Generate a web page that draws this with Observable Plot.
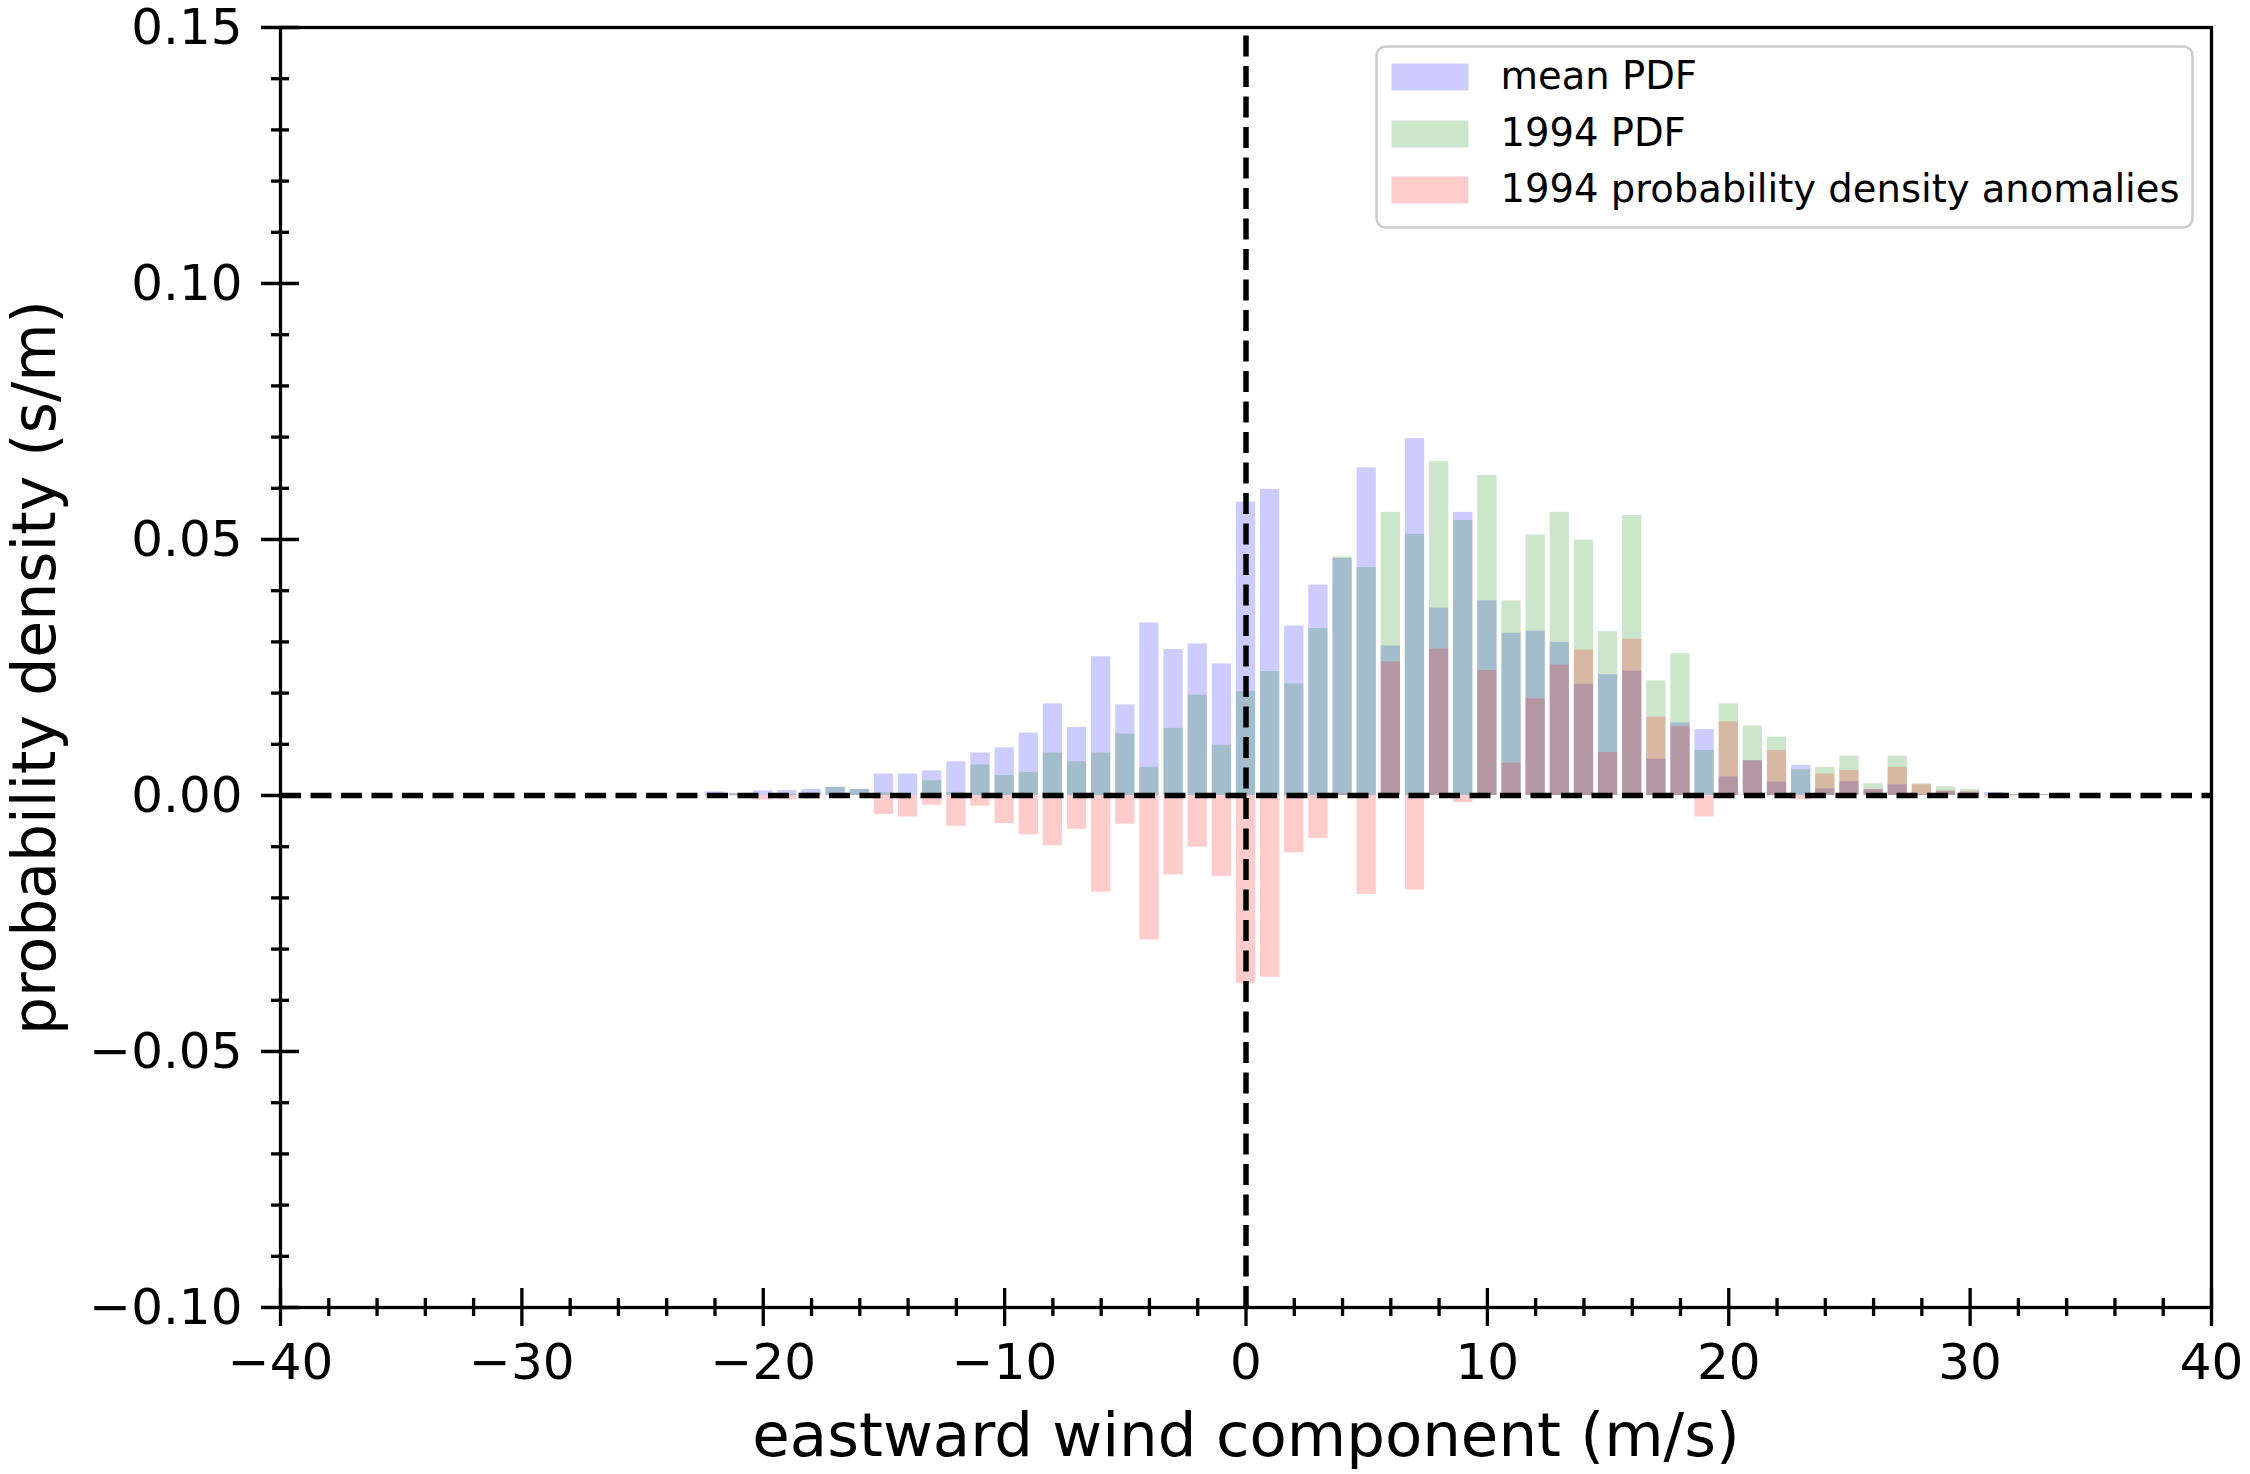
<!DOCTYPE html>
<html>
<head>
<meta charset="utf-8">
<script src="https://cdn.jsdelivr.net/npm/d3@7"></script>
<script src="https://cdn.jsdelivr.net/npm/@observablehq/plot@0.6"></script>
<style>
  html, body { margin: 0; padding: 0; background: #ffffff; }
  #chart { width: 2250px; height: 1474px; }
</style>
</head>
<body>
<div id="chart"></div>
<script>
// ---- data ----
const windBins = [-22,-21,-20,-19,-18,-17,-16,-15,-14,-13,-12,-11,-10,-9,-8,-7,-6,-5,-4,-3,-2,-1,
  0,1,2,3,4,5,6,7,8,9,10,11,12,13,14,15,16,17,18,19,20,21,22,23,24,25,26,27,28,29,30,31,32,33];
const meanPDF = [0.0007,0.0004,0.0009,0.0010,0.0012,0.0016,0.0012,0.0042,0.0042,0.0048,0.0066,0.0083,0.0093,0.0122,0.0179,0.0133,0.0271,0.0177,0.0337,0.0285,0.0296,0.0257,
  0.0573,0.0598,0.0331,0.0411,0.0463,0.0640,0.0292,0.0697,0.0366,0.0553,0.0380,0.0317,0.0321,0.0299,0.0217,0.0236,0.0243,0.0071,0.0142,0.0129,0.0036,0.0068,0.0026,0.0059,0.0013,0.0027,0.0011,0.0021,0.0002,0.0008,0.0004,0.0006,0.0002,0.0002];
const pdf1994 = [0.0002,0.0003,0.0000,0.0002,0.0005,0.0016,0.0012,0.0005,0.0000,0.0029,0.0006,0.0060,0.0039,0.0045,0.0083,0.0066,0.0083,0.0120,0.0055,0.0131,0.0196,0.0098,
  0.0203,0.0242,0.0218,0.0326,0.0466,0.0445,0.0553,0.0510,0.0652,0.0537,0.0625,0.0380,0.0509,0.0553,0.0499,0.0320,0.0547,0.0224,0.0277,0.0088,0.0179,0.0136,0.0114,0.0050,0.0055,0.0077,0.0023,0.0077,0.0023,0.0017,0.0012,0.0001,0.0001,0.0002];
const anomaly1994 = [-0.0005,-0.0001,-0.0009,-0.0008,-0.0007,0.0000,0.0000,-0.0037,-0.0042,-0.0019,-0.0060,-0.0021,-0.0055,-0.0077,-0.0098,-0.0066,-0.0189,-0.0056,-0.0282,-0.0155,-0.0101,-0.0158,
  -0.0367,-0.0355,-0.0112,-0.0084,0.0003,-0.0193,0.0261,-0.0185,0.0286,-0.0014,0.0244,0.0063,0.0189,0.0255,0.0284,0.0084,0.0305,0.0153,0.0135,-0.0042,0.0144,0.0068,0.0088,-0.0008,0.0042,0.0049,0.0012,0.0055,0.0021,0.0009,0.0008,-0.0005,-0.0001,0.0000];

const seriesNames = ["mean PDF", "1994 PDF", "1994 probability density anomalies"];
const seriesColors = ["#0000ff", "#008000", "#ff0000"];

const xMajorTicks = [-40,-30,-20,-10,0,10,20,30,40];
const xMinorTicks = [-38,-36,-34,-32,-28,-26,-24,-22,-18,-16,-14,-12,-8,-6,-4,-2,2,4,6,8,12,14,16,18,22,24,26,28,32,34,36,38];
const yMajorTicks = [-0.10,-0.05,0.00,0.05,0.10,0.15];
const yMinorTicks = [-0.09,-0.08,-0.07,-0.06,-0.04,-0.03,-0.02,-0.01,0.01,0.02,0.03,0.04,0.06,0.07,0.08,0.09,0.11,0.12,0.13,0.14];
const xDomain = [-40, 40];
const yDomain = [-0.10, 0.15];
const xLabel = "eastward wind component (m/s)";
const yLabel = "probability density (s/m)";

// ---- build tables ----
const seriesValues = [meanPDF, pdf1994, anomaly1994];
const barWidth = 0.8;
const barMarks = seriesValues.map((vals, s) =>
  Plot.rectY(windBins.map((k, i) => ({k, v: vals[i]})), {
    x1: d => d.k - barWidth / 2,
    x2: d => d.k + barWidth / 2,
    y1: 0,
    y2: d => d.v,
    fill: seriesColors[s],
    fillOpacity: 0.2
  })
);

const W = 2250, H = 1474;
const mL = 280, mR = 39, mT = 27, mB = 167;
const tickStroke = 3.3;

// legend geometry (px insets inside the frame)
const legendBox = {insetLeft: 1096, insetRight: 19, insetTop: 19, insetBottom: 1080};
const rowTop = [36, 93, 149];
const swatchH = 27;
const frameH = H - mT - mB;

const legendMarks = [
  Plot.frame({...legendBox, fill: "white", fillOpacity: 0.8, stroke: "#cccccc", strokeWidth: 2.5, rx: 9})
];
seriesNames.forEach((name, s) => {
  legendMarks.push(Plot.frame({
    insetLeft: 1111, insetRight: 743,
    insetTop: rowTop[s], insetBottom: frameH - rowTop[s] - swatchH,
    fill: seriesColors[s], fillOpacity: 0.2, stroke: null
  }));
  legendMarks.push(Plot.text([name], {
    frameAnchor: "top-left", text: d => d,
    dx: 1220, dy: rowTop[s] + swatchH / 2,
    textAnchor: "start", lineAnchor: "middle",
    fontSize: 38.5, fill: "black"
  }));
});

const chart = Plot.plot({
  width: W, height: H,
  marginLeft: mL, marginRight: mR, marginTop: mT, marginBottom: mB,
  style: {fontFamily: "'DejaVu Sans', sans-serif", background: "white", color: "black"},
  x: {domain: xDomain},
  y: {domain: yDomain},
  marks: [
    ...barMarks,
    Plot.ruleY([0], {x1: xDomain[0], x2: xDomain[1], stroke: "black", strokeWidth: 5.5, strokeDasharray: "21,9.5"}),
    Plot.ruleX([0], {y1: yDomain[0], y2: yDomain[1], stroke: "black", strokeWidth: 5.5, strokeDasharray: "21,9.5"}),
    // tick marks (in-out)
    Plot.axisX({ticks: xMajorTicks, anchor: "bottom", tickSize: 38, dy: -19, tickFormat: () => "", strokeWidth: tickStroke, label: null}),
    Plot.axisX({ticks: xMinorTicks, anchor: "bottom", tickSize: 18, dy: -9, tickFormat: () => "", strokeWidth: tickStroke, label: null}),
    Plot.axisY({ticks: yMajorTicks, anchor: "left", tickSize: 38, dx: 19, tickFormat: () => "", strokeWidth: tickStroke, label: null}),
    Plot.axisY({ticks: yMinorTicks, anchor: "left", tickSize: 18, dx: 9, tickFormat: () => "", strokeWidth: tickStroke, label: null}),
    // tick labels
    Plot.axisX({ticks: xMajorTicks, anchor: "bottom", tickSize: 0, tickPadding: 36, tickFormat: d3.format("d"), fontSize: 50, label: null}),
    Plot.axisY({ticks: yMajorTicks, anchor: "left", tickSize: 0, tickPadding: 38, tickFormat: d3.format(".2f"), fontSize: 50, label: null}),
    // axis titles
    Plot.text([xLabel], {frameAnchor: "bottom", text: d => d, dy: 148, lineAnchor: "bottom", textAnchor: "middle", fontSize: 61, fill: "black"}),
    Plot.text([yLabel], {frameAnchor: "left", text: d => d, rotate: -90, dx: -226, lineAnchor: "bottom", textAnchor: "middle", fontSize: 60, fill: "black"}),
    ...legendMarks,
    Plot.frame({stroke: "black", strokeWidth: tickStroke})
  ]
});
document.getElementById("chart").appendChild(chart);
</script>
</body>
</html>
